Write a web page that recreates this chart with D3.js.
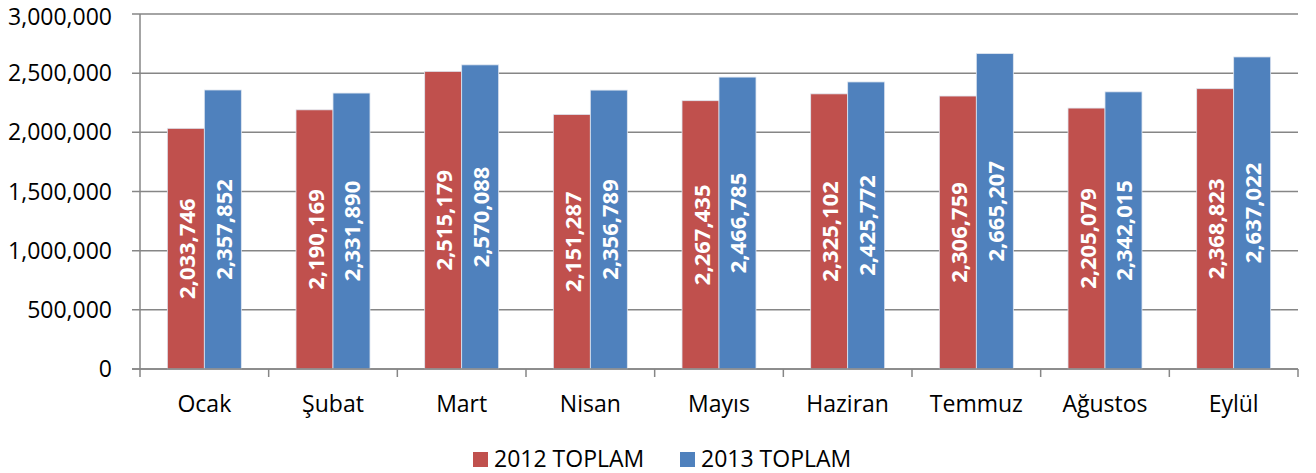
<!DOCTYPE html>
<html lang="tr">
<head>
<meta charset="UTF-8">
<title>2012 - 2013 Toplam</title>
<style>
    body { margin: 0; background: #fff; }
    text { font-family: 'Open Sans', sans-serif; fill: #000; }
    .grid line { stroke: #868686; stroke-width: 1.5px; }
    .bar-label { fill: #fff; font-weight: bold; }
</style>
</head>
<body>
<svg id="chart" width="1316" height="473"></svg>

<script src="https://d3js.org/d3.v7.min.js"></script>
<script>
    // Data
    const months = ["Ocak", "Şubat", "Mart", "Nisan", "Mayıs", "Haziran", "Temmuz", "Ağustos", "Eylül"];
    const seriesNames = ["2012 TOPLAM", "2013 TOPLAM"];
    const values2012 = [2033746, 2190169, 2515179, 2151287, 2267435, 2325102, 2306759, 2205079, 2368823];
    const values2013 = [2357852, 2331890, 2570088, 2356789, 2466785, 2425772, 2665207, 2342015, 2637022];
    const yTicks = [0, 500000, 1000000, 1500000, 2000000, 2500000, 3000000];
    const colors = ["#C0504D", "#4F81BD"];

    const svg = d3.select("#chart");
    const plotLeft = 140, plotRight = 1298, plotTop = 14, plotBottom = 369;

    const x = d3.scaleBand().domain(months).range([plotLeft, plotRight])
        .paddingInner(0.425).paddingOuter(0.2125);
    const xs = d3.scaleBand().domain(seriesNames).range([0, x.bandwidth()]);
    const y = d3.scaleLinear().domain([0, 3000000]).range([plotBottom, plotTop]);

    const fmt = d3.format(",");

    // gridlines + y ticks
    svg.append("g").attr("class", "grid")
        .selectAll("line").data(yTicks).join("line")
        .attr("x1", plotLeft - 8).attr("x2", plotRight)
        .attr("y1", d => y(d)).attr("y2", d => y(d));

    // baseline a bit under the gridline; top one kept inside the page
    svg.append("g").selectAll("text").data(yTicks).join("text")
        .attr("x", 112).attr("y", d => Math.max(y(d) + 8, 25))
        .attr("text-anchor", "end")
        .style("font-size", "23px")
        .text(d => fmt(d));

    // bars
    const rows = months.map((m, i) => ({ month: m, vals: [values2012[i], values2013[i]] }));
    const groups = svg.append("g").selectAll("g").data(rows).join("g")
        .attr("transform", d => `translate(${x(d.month)},0)`);

    groups.selectAll("rect").data(d => d.vals.map((v, k) => ({ v, k }))).join("rect")
        .attr("x", d => xs(seriesNames[d.k]))
        .attr("width", xs.bandwidth())
        .attr("y", d => y(d.v))
        .attr("height", d => y(0) - y(d.v))
        .attr("fill", d => colors[d.k])
        .attr("stroke", "#dfe6f0").attr("stroke-width", 0.8);

    groups.selectAll("text").data(d => d.vals.map((v, k) => ({ v, k }))).join("text")
        .attr("class", "bar-label")
        .attr("transform", d => `translate(${xs(seriesNames[d.k]) + xs.bandwidth() / 2},${(y(d.v) + y(0)) / 2}) rotate(-90)`)
        .attr("text-anchor", "middle").attr("dominant-baseline", "central")
        .style("font-size", "22px")
        .text(d => fmt(d.v));

    // axes
    svg.append("line")
        .attr("x1", plotLeft).attr("x2", plotLeft).attr("y1", plotTop).attr("y2", plotBottom)
        .attr("stroke", "#868686").attr("stroke-width", 1.5);
    svg.append("line")
        .attr("x1", plotLeft - 8).attr("x2", plotRight).attr("y1", plotBottom).attr("y2", plotBottom)
        .attr("stroke", "#868686").attr("stroke-width", 1.5);

    const step = x.step();
    svg.append("g").selectAll("line").data(d3.range(months.length + 1)).join("line")
        .attr("x1", i => plotLeft + i * step).attr("x2", i => plotLeft + i * step)
        .attr("y1", plotBottom).attr("y2", plotBottom + 8)
        .attr("stroke", "#868686").attr("stroke-width", 1.5);

    svg.append("g").selectAll("text").data(months).join("text")
        .attr("x", d => x(d) + x.bandwidth() / 2).attr("y", 412)
        .attr("text-anchor", "middle")
        .style("font-size", "23px")
        .text(d => d);

    // legend
    const legendX = [473, 680];
    const legend = svg.append("g").selectAll("g").data(seriesNames).join("g")
        .attr("transform", (d, i) => `translate(${legendX[i]},452)`);
    legend.append("rect").attr("width", 15).attr("height", 15)
        .attr("fill", (d, i) => colors[i]);
    legend.append("text").attr("x", 21).attr("y", 15)
        .style("font-size", "23px")
        .text(d => d);
</script>
</body>
</html>
